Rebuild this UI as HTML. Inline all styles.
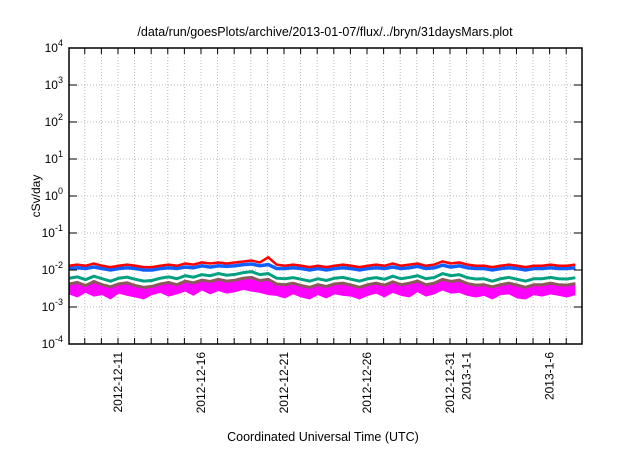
<!DOCTYPE html>
<html><head><meta charset="utf-8"><style>
body{margin:0;background:#fff;}
svg{font-family:"Liberation Sans",sans-serif;}
</style></head><body>
<svg id="c" width="640" height="448" viewBox="0 0 640 448">
<rect width="640" height="448" fill="#fff"/>
<text x="325" y="36" text-anchor="middle" font-size="12.5">/data/run/goesPlots/archive/2013-01-07/flux/../bryn/31daysMars.plot</text>
<text transform="translate(40,196) rotate(-90)" text-anchor="middle" font-size="12">cSv/day</text>
<text x="323" y="441" text-anchor="middle" font-size="12.5">Coordinated Universal Time (UTC)</text>
<g id="grid"></g><g id="series"></g><g id="axes"></g>
</svg>
<script>
const yExponents=[-4,-3,-2,-1,0,1,2,3,4];
const xLabels=[["2012-12-11",3],["2012-12-16",8],["2012-12-21",13],["2012-12-26",18],["2012-12-31",23],["2013-1-1",24],["2013-1-6",29]];
const red=[13,14,13,15,13,12,13,14,13,12,12,13,14,13,15,14,16,15,16,15,16,17,18,16,22,14,13,14,13,12,13,12,13,14,13,12,13,14,13,15,13,14,15,13,14,17,15,16,14,13,13,12,13,14,13,12,13,13,14,13,13,14];
const blue=[11,11.5,11,12,11,10,11,11.5,11,10,10,11,11.5,11,12,11.5,13,12,13,12.5,13,14,14.5,13,14,11,11,11.5,11,10,11,10,11,11.5,11,10,11,11.5,11,12,11,11.5,12.5,11,11.5,13.5,12,13,11.5,11,11,10,11,11.5,11,10,11,11,11.5,11,11,11.5];
const cyan=[9,9.5,9,9.8,9,8.4,9,9.4,9,8.4,8.4,9,9.4,9,9.8,9.4,10.5,9.8,10.5,10,10.5,11,11.5,10.5,11,9,9,9.4,9,8.4,9,8.4,9,9.4,9,8.4,9,9.4,9,9.8,9,9.4,10,9,9.4,10.8,9.8,10.5,9.4,9,9,8.4,9,9.4,9,8.4,9,9,9.4,9,9,9.4];
const green=[6,6.5,5.5,6.8,5.8,5,6,6.4,5.6,5,5.2,6,6.5,5.8,7,6.4,7.5,7,8,7.2,7.6,8.5,9,7.5,8,6,5.8,6.2,5.6,5,5.8,5.2,6,6.3,5.6,5,5.8,6.2,5.6,6.8,5.8,6.3,7,5.8,6.3,8,7,7.5,6.2,5.7,5.8,5,5.8,6.3,5.6,5,5.8,5.8,6.3,5.8,5.7,6.2];
const brown=[4.2,4.6,3.8,4.9,4,3.5,4.2,4.5,3.8,3.4,3.6,4.2,4.6,4,5,4.5,5.3,4.9,5.6,5,5.3,6,6.3,5.2,5.6,4.2,4,4.4,3.8,3.4,4,3.6,4.2,4.4,3.9,3.4,4,4.4,3.9,4.8,4,4.4,5,4,4.4,5.6,4.9,5.3,4.3,3.9,4,3.5,4,4.4,3.9,3.4,4,4,4.4,4,3.9,4.3];
const magentaHi=[4.5,5,4,5.4,4.3,3.8,4.5,4.9,4,3.6,3.9,4.5,5,4.2,5.4,4.8,5.8,5.3,6,5.4,5.7,6.5,6.8,5.6,6,4.5,4.3,4.7,4,3.6,4.3,3.8,4.5,4.7,4.1,3.6,4.3,4.7,4.1,5.2,4.3,4.7,5.4,4.3,4.7,6,5.3,5.7,4.6,4.2,4.3,3.7,4.3,4.7,4.1,3.6,4.3,4.3,4.7,4.3,4.2,4.6];
const magentaLo=[2.2,1.8,2.4,1.9,2.1,1.6,2.3,2,1.8,1.6,2.1,2.4,1.9,2.2,2.6,2,2.8,2.2,2.7,2.3,2.5,2.9,2.6,2.4,2.1,2,1.7,2.2,1.8,1.6,2.1,1.7,2.2,2,1.9,1.6,2,2.3,1.8,2.4,2,1.8,2.5,1.9,2.2,2.8,2.3,2.4,2,1.8,2,1.6,2.1,2.2,1.7,1.6,2.1,1.9,2.2,2,1.8,2.1];
const NS="http://www.w3.org/2000/svg";
const L=69,R=582,T=48,B=344,D0=0,D1=30.9;
const xs=d=>L+(d-D0)/(D1-D0)*(R-L);
const ys=v=>B-(Math.log10(v)+4)*(B-T)/8;
const dayOf=i=>i*0.5;
function mk(tag,attrs,parent){const e=document.createElementNS(NS,tag);for(const k in attrs)e.setAttribute(k,attrs[k]);document.getElementById(parent).appendChild(e);return e;}
for(let k=1;k<=30;k++){const d=k-0.05;const x=xs(d);
 const l=mk('line',{x1:x,x2:x,y1:T,y2:B,stroke:'#bbb','stroke-dasharray':'1,2','stroke-width':1},'grid');
 
 const t1=mk('line',{x1:x,x2:x,y1:B,y2:B-6,stroke:'#000'},'axes');
 const t2=mk('line',{x1:x,x2:x,y1:T,y2:T+6,stroke:'#000'},'axes');}
yExponents.forEach(e=>{const y=ys(Math.pow(10,e));
 if(e>-4&&e<4){const l=mk('line',{x1:L,x2:R,y1:y,y2:y,stroke:'#bbb','stroke-dasharray':'1,2'},'grid');}
 const t=mk('line',{x1:L,x2:L+8,y1:y,y2:y,stroke:'#000'},'axes');
 const t3=mk('line',{x1:R,x2:R-8,y1:y,y2:y,stroke:'#000'},'axes');
 const tx=mk('text',{x:L-6,y:y+4,'text-anchor':'end','font-size':12},'axes');
 
 tx.innerHTML='10<tspan dy="-6" font-size="9">'+e+'</tspan>';});
xLabels.forEach(([s,k])=>{const x=xs(k-0.05)+4;
 const tx=mk('text',{transform:`translate(${x},${B+8}) rotate(-90)`,'text-anchor':'end','font-size':12},'axes');
 tx.textContent=s;});
const fr=mk('rect',{x:L,y:T,width:R-L,height:B-T,fill:'none',stroke:'#000','stroke-width':1.5},'axes');

function pts(a){return a.map((v,i)=>xs(dayOf(i))+','+ys(v/1000)).join(' ');}
const band=mk('polygon',{points:pts(magentaHi)+' '+magentaLo.map((v,i)=>[i,v]).reverse().map(([i,v])=>xs(dayOf(i))+','+ys(v/1000)).join(' '),fill:'#ff00ff'},'series');

[[brown,'#8a5a5a',3,'series-brown'],[green,'#00a080',3,'series-green'],[cyan,'#ffffff',2,'series-white'],[blue,'#1060ff',3.5,'series-blue'],[red,'#ff0000',2.5,'series-red']].forEach(([a,c,w,n])=>{
 const p=mk('polyline',{points:pts(a),fill:'none',stroke:c,'stroke-width':w},'series');
 });
</script>
</body></html>
